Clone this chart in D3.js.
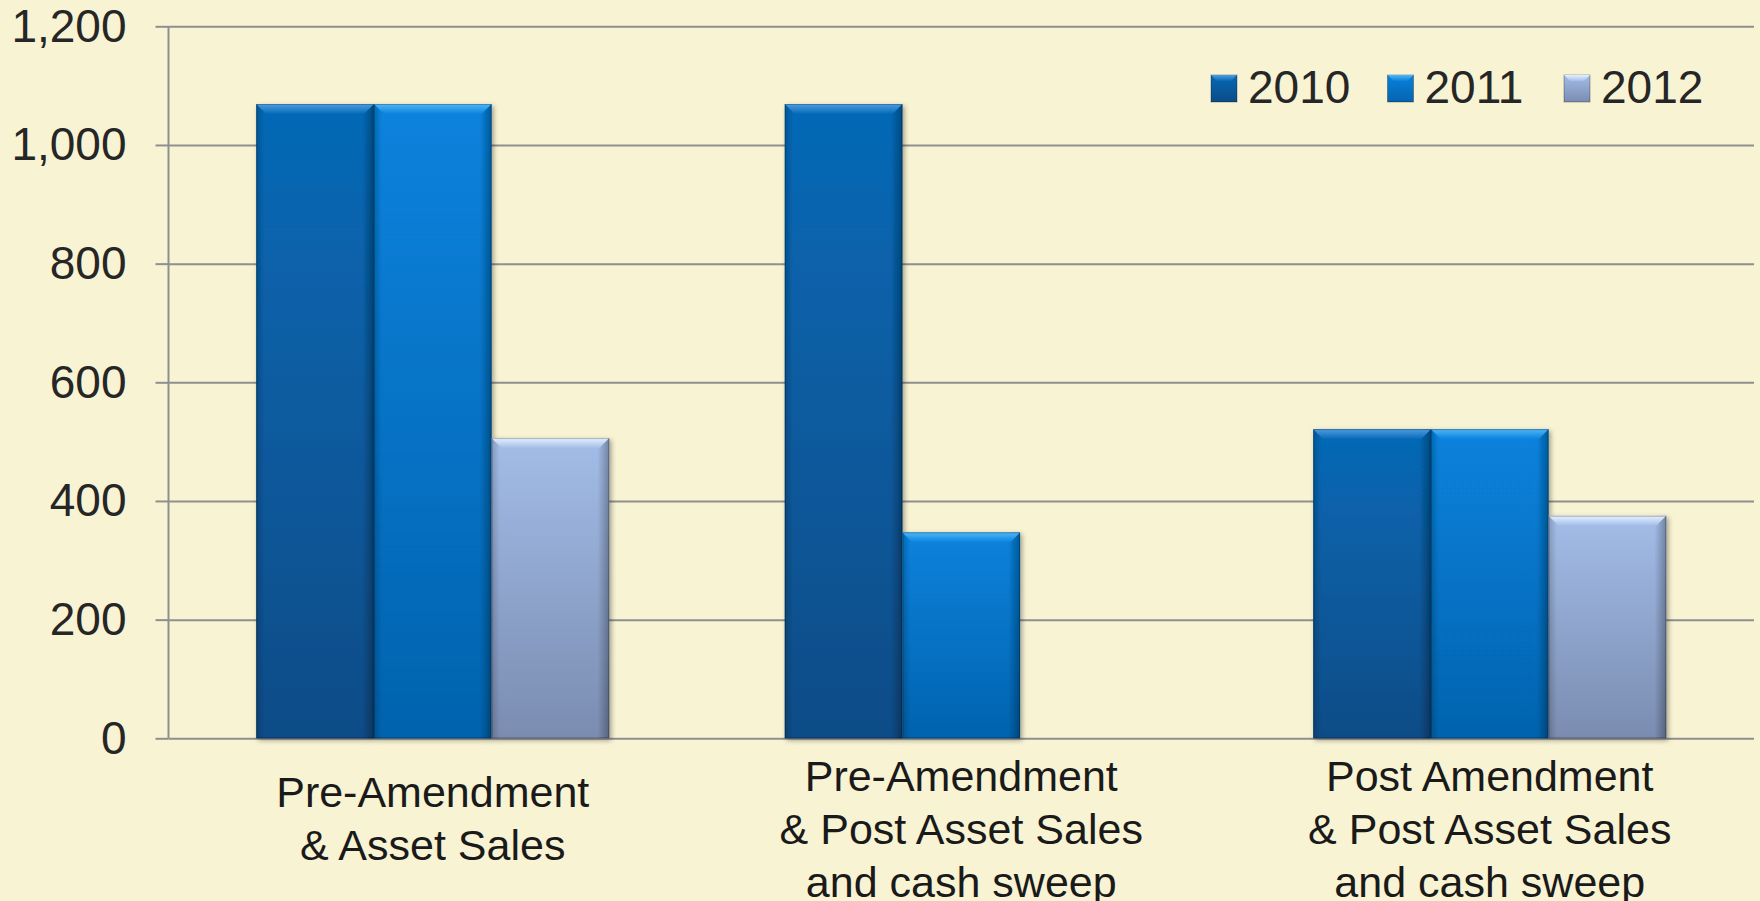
<html>
<meta charset="utf-8" />
<head>
<title>Bars by scenario</title>
<script src="https://cdn.jsdelivr.net/npm/d3@7"></script>
<style>
	body { margin: 0; background: #f8f3d3; }
	svg { display: block; }
	text { font-family: Arial, 'Liberation Sans', sans-serif; }
</style>
<script>
// data
const categories = ['Pre-Amendment & Asset Sales', 'Pre-Amendment & Post Asset Sales and cash sweep', 'Post Amendment & Post Asset Sales and cash sweep'];
const categoryLines = [
	['Pre-Amendment', '& Asset Sales'],
	['Pre-Amendment', '& Post Asset Sales', 'and cash sweep'],
	['Post Amendment', '& Post Asset Sales', 'and cash sweep']
];
const years = ['2010', '2011', '2012'];
const values2010 = [1069, 1069, 521];
const values2011 = [1069, 347, 521];
const values2012 = [506, 0, 375];
const yTicks = [0, 200, 400, 600, 800, 1000, 1200];

window.onload = function() {
	let svg = d3.select('svg');
	let series = [values2010, values2011, values2012];

	// colours: top, bottom, bevel highlight
	let colors = {
		'2010': ['#0669b6', '#0a4c87', '#4f9de2'],
		'2011': ['#0782dd', '#0663ae', '#52b6f6'],
		'2012': ['#a3bde8', '#7a8cb0', '#e6f0ff']
	};

	let xScale = d3.scaleBand().domain(categories).range([168.5, 1754]).paddingInner(0.332).paddingOuter(0.166);
	let xInner = d3.scaleBand().domain(years).range([0, xScale.bandwidth()]);
	let yScale = d3.scaleLinear().domain([0, 1200]).range([738.3, 26.3]);

	let defs = svg.append('defs');
	years.forEach((yr) => {
		let g = defs.append('linearGradient').attr('id', 'fill' + yr).attr('x1', 0).attr('y1', 0).attr('x2', 0).attr('y2', 1);
		g.append('stop').attr('offset', '0%').attr('stop-color', colors[yr][0]);
		g.append('stop').attr('offset', '100%').attr('stop-color', colors[yr][1]);
		let b = defs.append('linearGradient').attr('id', 'bevel' + yr).attr('x1', 0).attr('y1', 0).attr('x2', 0).attr('y2', 1);
		b.append('stop').attr('offset', '0%').attr('stop-color', colors[yr][2]);
		b.append('stop').attr('offset', '100%').attr('stop-color', colors[yr][0]);
	});
	// darker edges left and right
	let side = defs.append('linearGradient').attr('id', 'sides').attr('x1', 0).attr('y1', 0).attr('x2', 1).attr('y2', 0);
	side.append('stop').attr('offset', '0%').attr('stop-color', '#000').attr('stop-opacity', 0.18);
	side.append('stop').attr('offset', '7%').attr('stop-color', '#000').attr('stop-opacity', 0);
	side.append('stop').attr('offset', '90%').attr('stop-color', '#000').attr('stop-opacity', 0);
	side.append('stop').attr('offset', '100%').attr('stop-color', '#000').attr('stop-opacity', 0.3);
	let shadow = defs.append('filter').attr('id', 'shadow').attr('x', '-10%').attr('y', '-10%').attr('width', '130%').attr('height', '130%');
	shadow.append('feDropShadow').attr('dx', 2).attr('dy', 2).attr('stdDeviation', 2.5).attr('flood-color', '#000').attr('flood-opacity', 0.35);

	// gridlines
	svg.append('g').attr('id', 'gridG')
		.attr('transform', 'translate(168.5,0)')
		.call(d3.axisLeft(yScale).tickValues(yTicks).tickSize(-(1754 - 168.5)).tickFormat(''))
		.call((g) => g.select('.domain').remove())
		.selectAll('line').attr('stroke', '#8f8f8f').attr('stroke-width', 2);

	// y axis
	let yAxisG = svg.append('g').attr('id', 'yAxisG')
		.attr('transform', 'translate(168.5,0)')
		.call(d3.axisLeft(yScale).tickValues(yTicks).tickSize(13).tickPadding(29).tickFormat(d3.format(',')));
	yAxisG.select('.domain').attr('stroke', '#8f8f8f').attr('stroke-width', 2).attr('d', 'M0,' + yScale(1200) + 'V' + yScale(0));
	yAxisG.selectAll('.tick line').attr('stroke', '#8f8f8f').attr('stroke-width', 2);
	yAxisG.selectAll('.tick text').attr('font-size', 46).attr('fill', '#262626').attr('font-family', 'Arial, Liberation Sans, sans-serif');

	// bars, one group per category
	let groups = svg.selectAll('g.cat')
		.data(categories).enter()
		.append('g')
		.attr('class', 'cat')
		.attr('transform', (d) => 'translate(' + xScale(d) + ',0)');

	let bars = groups.selectAll('g.bar')
		.data((d, i) => years.map((yr, j) => ({ year: yr, value: series[j][i] })).filter((b) => b.value > 0))
		.enter()
		.append('g')
		.attr('class', 'bar')
		.attr('filter', 'url(#shadow)');

	let bw = xInner.bandwidth();
	let bev = 10;
	bars.append('rect')
		.attr('x', (d) => xInner(d.year))
		.attr('y', (d) => yScale(d.value))
		.attr('width', bw)
		.attr('height', (d) => yScale(0) - yScale(d.value))
		.attr('fill', (d) => 'url(#fill' + d.year + ')');
	bars.append('rect')
		.attr('x', (d) => xInner(d.year))
		.attr('y', (d) => yScale(d.value))
		.attr('width', bw)
		.attr('height', (d) => yScale(0) - yScale(d.value))
		.attr('fill', 'url(#sides)');
	// top bevel with slanted corners
	bars.append('path')
		.attr('d', (d) => {
			let x0 = xInner(d.year), y0 = yScale(d.value);
			return 'M' + x0 + ',' + y0 + 'H' + (x0 + bw) + 'L' + (x0 + bw - bev) + ',' + (y0 + bev) + 'H' + (x0 + bev) + 'Z';
		})
		.attr('fill', (d) => 'url(#bevel' + d.year + ')');
	bars.append('rect')
		.attr('x', (d) => xInner(d.year) + 0.5)
		.attr('y', (d) => yScale(d.value) + 0.5)
		.attr('width', bw - 1)
		.attr('height', (d) => yScale(0) - yScale(d.value) - 1)
		.attr('fill', 'none')
		.attr('stroke', '#000')
		.attr('stroke-opacity', 0.25);

	// category labels
	groups.each(function(d, i) {
		let lines = categoryLines[i];
		let top = 792 - (lines.length - 2) * 16.5;
		d3.select(this).append('text')
			.attr('text-anchor', 'middle')
			.attr('font-size', 43)
			.attr('fill', '#1a1a1a')
			.selectAll('tspan')
			.data(lines).enter()
			.append('tspan')
			.attr('x', xScale.bandwidth() / 2)
			.attr('y', (l, k) => top + k * 53)
			.attr('dy', '0.35em')
			.text((l) => l);
	});

	// legend
	let legend = svg.append('g').attr('id', 'legendG').attr('transform', 'translate(1211,75)')
		.selectAll('g')
		.data(years).enter()
		.append('g')
		.attr('transform', (d, i) => 'translate(' + (i * 176.5) + ',0)');
	legend.append('rect')
		.attr('width', 26).attr('height', 27)
		.attr('fill', (d) => 'url(#fill' + d + ')')
		.attr('stroke', '#000').attr('stroke-opacity', 0.3);
	legend.append('path')
		.attr('d', 'M0,0H26L20,6H6Z')
		.attr('fill', (d) => 'url(#bevel' + d + ')');
	legend.append('text')
		.attr('x', 37).attr('y', 12).attr('dy', '0.35em')
		.attr('font-size', 46).attr('fill', '#262626')
		.text((d) => d);
}
</script>
</head>
<body>
<svg width="1760" height="901"></svg>
</body>
</html>
